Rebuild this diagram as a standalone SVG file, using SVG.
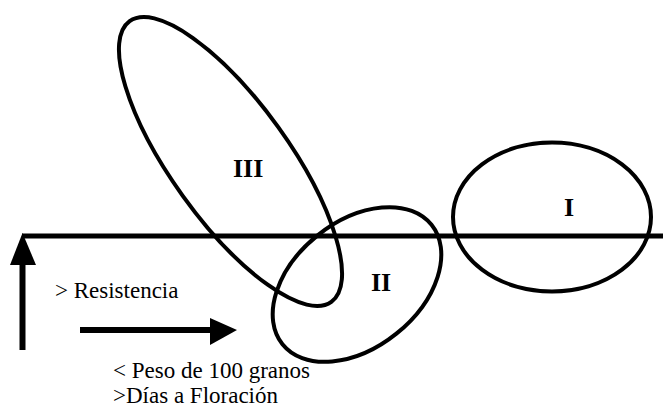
<svg xmlns="http://www.w3.org/2000/svg" width="663" height="412" viewBox="0 0 663 412">
<style>
.ell{fill:none;stroke:#000;stroke-width:4}
.axis{stroke:#000;stroke-width:5;fill:none}
.shaft{stroke:#000;stroke-width:6;fill:none}
.head{fill:#000;stroke:none}
.lbl{font-family:"Liberation Serif","Times New Roman",serif;font-size:23px;fill:#000}
.num{font-family:"Liberation Serif","Times New Roman",serif;font-size:26px;font-weight:bold;fill:#000}
</style>
<rect width="663" height="412" fill="#fff"/>
<g id="connectors">
<line class="axis" x1="22" y1="236" x2="663" y2="236"/>
<line class="shaft" x1="22.5" y1="262" x2="22.5" y2="350"/>
<polygon class="head" points="22.5,233 10,265 36,265"/>
<line class="shaft" x1="80" y1="330" x2="212" y2="330"/>
<polygon class="head" points="237,330 210,318 210,345"/>
</g>
<g id="group-III">
<ellipse class="ell" cx="230.5" cy="161.5" rx="172.8" ry="58.8" transform="rotate(54.3 230.5 161.5)"/>
<text class="num" x="233" y="177">III</text>
</g>
<g id="group-II">
<ellipse class="ell" cx="357" cy="284.5" rx="95.5" ry="63" transform="rotate(-38.7 357 284.5)"/>
<text class="num" x="371" y="291">II</text>
</g>
<g id="group-I">
<ellipse class="ell" cx="552" cy="217" rx="99" ry="74.5"/>
<text class="num" x="564" y="216">I</text>
</g>
<g id="labels">
<text class="lbl" x="55" y="298">&gt; Resistencia</text>
<text class="lbl" x="113" y="378">&lt; Peso de 100 granos</text>
<text class="lbl" x="113" y="403">&gt;Días a Floración</text>
</g>
</svg>
